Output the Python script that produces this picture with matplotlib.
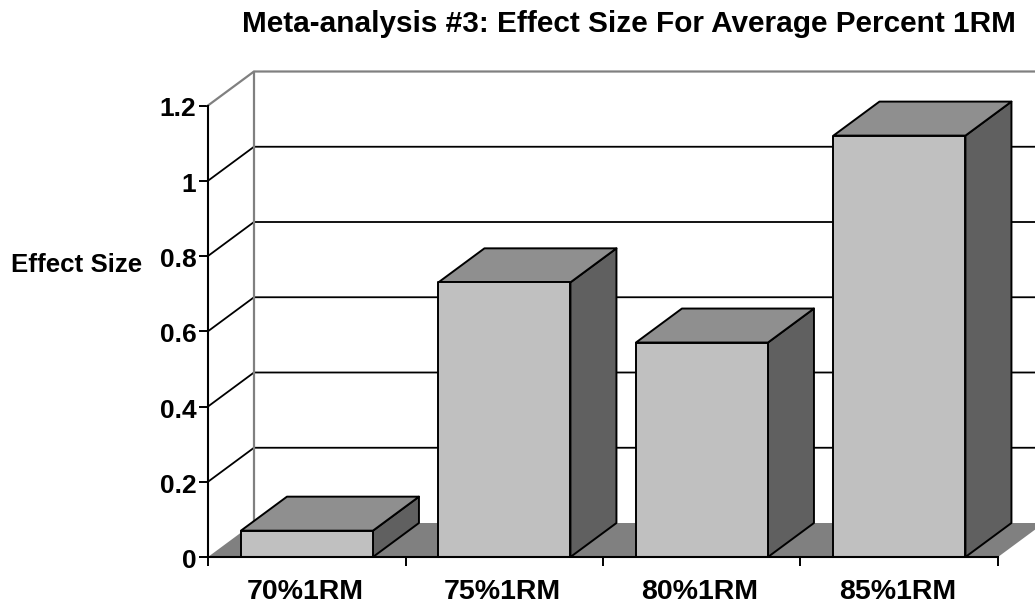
import matplotlib
matplotlib.use("Agg")
import matplotlib.pyplot as plt
from matplotlib.patches import Polygon
from matplotlib.transforms import ScaledTranslation

plt.rcParams["font.family"] = ["Liberation Sans", "DejaVu Sans"]
plt.rcParams["font.weight"] = "bold"

# Chart data
categories = ["70%1RM", "75%1RM", "80%1RM", "85%1RM"]
effect_sizes = [0.07, 0.73, 0.57, 1.12]
y_ticks = [0, 0.2, 0.4, 0.6, 0.8, 1.0, 1.2]
y_tick_labels = ["0", "0.2", "0.4", "0.6", "0.8", "1", "1.2"]
title_text = "Meta-analysis #3: Effect Size For Average Percent 1RM"
y_label_text = "Effect Size"

W, H = 1035, 602
LEFT, RIGHT, BOTTOM, TOP = 208, 998, 557, 105.5

fig = plt.figure(figsize=(W / 100, H / 100), dpi=100, facecolor="white")
ax = fig.add_axes([LEFT / W, 1 - BOTTOM / H, (RIGHT - LEFT) / W, (BOTTOM - TOP) / H])
n = len(categories)
ax.set_xlim(0, n)
ax.set_ylim(0, 1.2)
ax.patch.set_visible(False)

# Oblique depth of the 3-D box, in data units
px_x = (RIGHT - LEFT) / n
px_y = (BOTTOM - TOP) / 1.2
dx = 46 / px_x
dy = 34 / px_y

bar_width = 132 / px_x
bar_gap = (1 - bar_width) / 2 + 0.001

FRONT = "#c0c0c0"
TOPC = "#8f8f8f"
SIDE = "#606060"
FLOOR = "#808080"
WALL = "#808080"

# Floor
ax.add_patch(Polygon([(0, 0), (dx, dy), (n + dx, dy), (n, 0)], closed=True,
                     facecolor=FLOOR, edgecolor="none", clip_on=False, zorder=1))

# Gridlines on the back wall and their diagonals on the side wall
for t in y_ticks[1:-1]:
    ax.plot([0, dx, n + dx], [t, t + dy, t + dy], color="black", lw=1.3,
            clip_on=False, zorder=2, solid_joinstyle="miter")

# Outline of the back wall
ax.plot([dx, dx], [dy, 1.2 + dy], color=WALL, lw=1.6, clip_on=False, zorder=2)
ax.plot([0, dx, n + dx], [1.2, 1.2 + dy, 1.2 + dy], color=WALL, lw=1.6,
        clip_on=False, zorder=2, solid_joinstyle="miter")

# Bars drawn as three faces each
for i, v in enumerate(effect_sizes):
    x0 = i + bar_gap
    x1 = x0 + bar_width
    style = dict(closed=True, edgecolor="black", lw=1.4, clip_on=False,
                 zorder=3 + i * 0.1, joinstyle="round")
    ax.add_patch(Polygon([(x1, 0), (x1 + dx, dy), (x1 + dx, v + dy), (x1, v)],
                         facecolor=SIDE, **style))
    ax.add_patch(Polygon([(x0, v), (x0 + dx, v + dy), (x1 + dx, v + dy), (x1, v)],
                         facecolor=TOPC, **style))
    ax.add_patch(Polygon([(x0, 0), (x1, 0), (x1, v), (x0, v)],
                         facecolor=FRONT, **style))

# Axes
for side in ("top", "right"):
    ax.spines[side].set_visible(False)
for side in ("left", "bottom"):
    ax.spines[side].set_linewidth(1.5)
    ax.spines[side].set_zorder(6)
ax.set_yticks(y_ticks)
ax.set_yticklabels(y_tick_labels, fontsize=19, fontweight="bold")
ax.set_xticks(range(n + 1))
ax.set_xticklabels([""] * (n + 1))
ax.tick_params(axis="both", length=6.5, width=1.4, color="black", pad=1.8)

# Nudge the value labels slightly below their ticks
nudge = ScaledTranslation(0, -1.5 / 100, fig.dpi_scale_trans)
for label in ax.get_yticklabels():
    label.set_transform(label.get_transform() + nudge)

# Category labels sit midway between the tick marks
for i, c in enumerate(categories):
    ax.annotate(c, xy=(i + 0.49, 0), xytext=(0, -30.2), xycoords="data",
                textcoords="offset points", ha="center", va="baseline",
                fontsize=20.5, fontweight="bold", color="black")

fig.text(629 / W, 1 - 32 / H, title_text, ha="center", va="baseline",
         fontsize=21.4, fontweight="bold", color="black")
fig.text(77 / W, 1 - 272.5 / H, y_label_text, ha="center", va="baseline",
         fontsize=18.6, fontweight="bold", color="black")

fig.savefig("out.png", dpi=100, facecolor="white")
